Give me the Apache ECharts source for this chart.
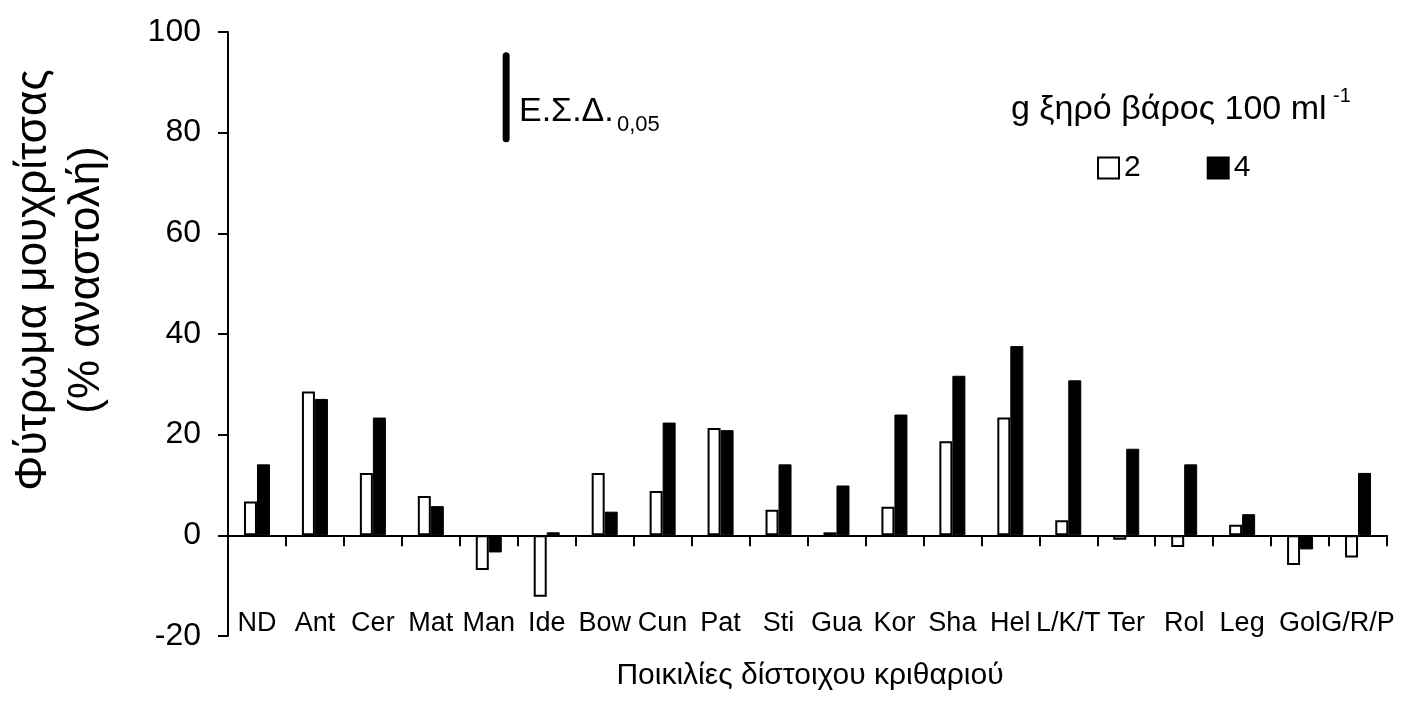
<!DOCTYPE html>
<html>
<head>
<meta charset="utf-8">
<script src="https://cdn.jsdelivr.net/npm/echarts@6/dist/echarts.min.js"></script>
<style>
    html, body { margin: 0; padding: 0; background: #fff; }
    #main { width: 1408px; height: 702px; }
</style>
</head>
<body>
<div id="main"></div>
<script>
// varieties of two-row barley
var varieties = ['ND', 'Ant', 'Cer', 'Mat', 'Man', 'Ide', 'Bow', 'Cun', 'Pat', 'Sti',
    'Gua', 'Kor', 'Sha', 'Hel', 'L/K/T', 'Ter', 'Rol', 'Leg', 'Gol', 'G/R/P'];
// % inhibition, 2 g dry weight 100 ml-1
var dose2 = [6.7, 28.6, 12.4, 7.8, -6.9, -12.2, 12.4, 8.8, 21.3, 5.1,
    0.6, 5.7, 18.7, 23.4, 3.0, -0.9, -2.3, 2.1, -5.9, -4.4];
// % inhibition, 4 g dry weight 100 ml-1
var dose4 = [14.1, 27.1, 23.4, 5.8, -3.4, 0.6, 4.7, 22.4, 20.9, 14.1,
    9.9, 24.0, 31.7, 37.6, 30.8, 17.2, 14.1, 4.2, -2.8, 12.4];
// LSD 0.05 bar (x in category units, y range)
var lsdX = 4.8;
var lsdY = [78.8, 95.3];
var yTicks = [-20, 0, 20, 40, 60, 80, 100];

var font = '"Liberation Sans", Arial, sans-serif';

var myChart = echarts.init(document.getElementById('main'));
var option = {
    animation: false,
    backgroundColor: '#FFFFFF',
    grid: {
        left: 228,
        right: 21,
        top: 32,
        bottom: 66,
        containLabel: false,
        outerBoundsMode: 'none'
    },
    legend: {
        data: ['2', '4'],
        left: 1097,
        top: 153,
        padding: 0,
        itemWidth: 21,
        itemHeight: 21,
        itemGap: 66,
        icon: 'rect',
        textStyle: {color: '#000', fontSize: 30, fontFamily: font, padding: [0, 0, 0, 0]}
    },
    xAxis: [
        {
            type: 'category',
            data: varieties,
            axisLine: {onZero: true, lineStyle: {color: '#000', width: 2}},
            axisTick: {show: true, length: 11, lineStyle: {color: '#000', width: 2}},
            axisLabel: {interval: 0, margin: -26, color: '#000', fontSize: 27, fontFamily: font},
            splitLine: {show: false}
        },
        {
            type: 'value',
            min: 0,
            max: varieties.length,
            show: false
        }
    ],
    yAxis: {
        type: 'value',
        min: yTicks[0],
        max: yTicks[yTicks.length - 1],
        interval: 20,
        axisLine: {show: true, lineStyle: {color: '#000', width: 2}},
        axisTick: {show: true, length: 10, lineStyle: {color: '#000', width: 2}},
        axisLabel: {margin: 27, color: '#000', fontSize: 32, fontFamily: font},
        splitLine: {show: false}
    },
    series: [
        {
            name: '2',
            type: 'bar',
            data: dose2,
            barWidth: 13,
            barGap: '0%',
            itemStyle: {color: '#FFFFFF', borderColor: '#000', borderWidth: 2}
        },
        {
            name: '4',
            type: 'bar',
            data: dose4,
            barWidth: 13,
            itemStyle: {color: '#000', borderColor: '#000', borderWidth: 1}
        },
        {
            name: 'LSD',
            type: 'line',
            xAxisIndex: 1,
            data: [[lsdX, lsdY[0]], [lsdX, lsdY[1]]],
            symbol: 'none',
            lineStyle: {color: '#000', width: 7, cap: 'round'},
            silent: true
        }
    ],
    graphic: [
        {
            type: 'text',
            left: 519, top: 95,
            style: {text: 'Ε.Σ.Δ.', fill: '#000', fontSize: 34, fontFamily: font}
        },
        {
            type: 'text',
            left: 617, top: 114,
            style: {text: '0,05', fill: '#000', fontSize: 22, fontFamily: font}
        },
        {
            type: 'text',
            left: 1011, top: 93,
            style: {text: 'g ξηρό βάρος 100 ml', fill: '#000', fontSize: 34, fontFamily: font}
        },
        {
            type: 'text',
            left: 1333, top: 86,
            style: {text: '-1', fill: '#000', fontSize: 20, fontFamily: font}
        },
        {
            type: 'text',
            x: 810, y: 676,
            style: {text: 'Ποικιλίες δίστοιχου κριθαριού', fill: '#000', fontSize: 30,
                fontFamily: font, align: 'center', verticalAlign: 'middle'}
        },
        {
            type: 'text',
            x: 60, y: 280,
            rotation: Math.PI / 2,
            style: {text: 'Φύτρωμα μουχρίτσας\n(% αναστολή)', fill: '#000', fontSize: 44,
                lineHeight: 53, fontFamily: font, align: 'center', verticalAlign: 'middle'}
        }
    ]
};
myChart.setOption(option);
</script>
</body>
</html>
